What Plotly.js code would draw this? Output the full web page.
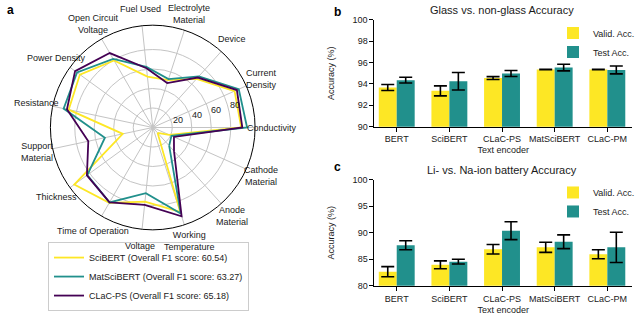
<!DOCTYPE html>
<html>
<head>
<meta charset="utf-8">
<script src="https://cdn.plot.ly/plotly-3.0.1.min.js"></script>
<style>html,body{margin:0;padding:0;background:#fff;}#chart{width:640px;height:315px;}</style>
</head>
<body>
<div id="chart"></div>
<script>
// ---- Radar (panel a) ----
const categories = ["Anode<br>Material", "Cathode<br>Material", "Conductivity", "Current<br>Density", "Device",
  "Electrolyte<br>Material", "Fuel Used", "Open Circuit<br>Voltage", "Power Density", "Resistance",
  "Support<br>Material", "Thickness", "Time of Operation", "Voltage", "Working<br>Temperature"];
const sciBERT    = [7.4, 18.4, 90.8, 91.9, 67.2, 51.1, 52.5, 79.4, 92.4, 88.2, 31.5, 99.5, 89.3, 76.4, 91.0];
const matSciBERT = [25.2, 21.0, 96.8, 96.6, 70.7, 52.2, 62.5, 81.3, 96.0, 93.5, 50.2, 83.0, 88.7, 67.7, 92.7];
const clacPS     = [32.6, 23.8, 91.9, 94.5, 69.0, 48.0, 61.1, 88.2, 98.5, 90.0, 67.6, 83.5, 88.7, 79.8, 95.8];
const radarNames = ["SciBERT (Overall F1 score: 60.54)", "MatSciBERT (Overall F1 score: 63.27)", "CLaC-PS (Overall F1 score: 65.18)"];
const radialTicks = [20, 40, 60, 80];
const radialMax = 105;

// ---- Bars (panels b, c) ----
const encoders = ["BERT", "SciBERT", "CLaC-PS", "MatSciBERT", "CLaC-PM"];
const glassValid    = [93.66, 93.35, 94.55, 95.35, 95.35];
const glassValidErr = [0.28, 0.47, 0.13, 0.02, 0.02];
const glassTest     = [94.35, 94.25, 94.97, 95.53, 95.31];
const glassTestErr  = [0.27, 0.82, 0.28, 0.31, 0.37];
const liValid    = [82.65, 83.95, 86.9, 87.25, 85.95];
const liValidErr = [0.95, 0.75, 0.9, 0.95, 0.85];
const liTest     = [87.65, 84.55, 90.4, 88.3, 87.25];
const liTestErr  = [0.85, 0.45, 1.7, 1.3, 2.85];
const barNames = ["Valid. Acc.", "Test Acc."];

const YEL = "#fde725", TEAL = "#21908c", PURP = "#440154";
const W = 640, H = 315;
const closed = a => a.concat([a[0]]);

const traces = [];
[[sciBERT, YEL], [matSciBERT, TEAL], [clacPS, PURP]].forEach((s, i) => {
  traces.push({type: "scatterpolar", mode: "lines", r: closed(s[0]), theta: closed(categories),
    name: radarNames[i], line: {color: s[1], width: 1.8}, legend: "legend", hoverinfo: "skip"});
});
function barTrace(y, err, color, name, xa, ya, lg) {
  return {type: "bar", x: encoders, y: y, name: name, xaxis: xa, yaxis: ya, legend: lg,
    marker: {color: color, line: {width: 0}},
    error_y: {type: "data", array: err, visible: true, color: "#000", thickness: 1.6, width: 6.5}};
}
traces.push(barTrace(glassValid, glassValidErr, YEL, barNames[0], "x", "y", "legend2"));
traces.push(barTrace(glassTest, glassTestErr, TEAL, barNames[1], "x", "y", "legend2"));
traces.push(barTrace(liValid, liValidErr, YEL, barNames[0], "x2", "y2", "legend3"));
traces.push(barTrace(liTest, liTestErr, TEAL, barNames[1], "x2", "y2", "legend3"));

const axX = (anchor, so) => ({domain: [0.586, 0.989], anchor: anchor, range: [-0.423, 4.468], showline: true,
  linecolor: "#000", linewidth: 1, ticks: "outside", ticklen: 4, tickcolor: "#000", showgrid: false,
  zeroline: false, tickangle: 0, tickfont: {size: 9},
  title: {text: "Text encoder", font: {size: 9}, standoff: so}});
const axY = (anchor, dom, rng, dt) => ({domain: dom, anchor: anchor, range: rng, dtick: dt, showline: true,
  linecolor: "#000", linewidth: 1, ticks: "outside", ticklen: 4, tickcolor: "#000", showgrid: false,
  zeroline: false, tickfont: {size: 9},
  title: {text: "Accuracy (%)", font: {size: 9}, standoff: 16}});

const legendBar = (y) => ({x: 0.866, y: y, xanchor: "left", yanchor: "top", bgcolor: "rgba(255,255,255,0)",
  borderwidth: 0, font: {size: 9}, tracegroupgap: 0});

// polar geometry (domain) and label placement computed from it
const polarDom = {x: [0.0789, 0.3992], y: [0.2698, 0.9206]};
const rotation = -48;
const cx = (polarDom.x[0] + polarDom.x[1]) / 2, cy = (polarDom.y[0] + polarDom.y[1]) / 2;
const radiusPx = Math.min((polarDom.x[1] - polarDom.x[0]) * W, (polarDom.y[1] - polarDom.y[0]) * H) / 2;

const annotations = [];
categories.forEach((c, i) => {
  const th = (rotation + i * 360 / categories.length) * Math.PI / 180;
  const R = radiusPx + 16.5;
  annotations.push({text: c, x: cx + R * Math.cos(th) / W, y: cy + R * Math.sin(th) / H,
    xref: "paper", yref: "paper", xanchor: "center", yanchor: "middle", showarrow: false,
    font: {size: 9, color: "#1a1a1a"}});
});
radialTicks.forEach(v => {
  const th = 15.5 * Math.PI / 180;
  const R = v / radialMax * radiusPx + 7;
  annotations.push({text: String(v), x: cx + R * Math.cos(th) / W, y: cy + R * Math.sin(th) / H,
    xref: "paper", yref: "paper", xanchor: "center", yanchor: "middle", showarrow: false,
    font: {size: 9, color: "#1a1a1a"}});
});
annotations.push(
  {text: "<b>a</b>", x: 0.008, y: 0.968, xref: "paper", yref: "paper", xanchor: "left", yanchor: "middle", showarrow: false, font: {size: 12, color: "#000"}},
  {text: "<b>b</b>", x: 0.52, y: 0.962, xref: "paper", yref: "paper", xanchor: "left", yanchor: "middle", showarrow: false, font: {size: 12, color: "#000"}},
  {text: "<b>c</b>", x: 0.52, y: 0.47, xref: "paper", yref: "paper", xanchor: "left", yanchor: "middle", showarrow: false, font: {size: 12, color: "#000"}},
  {text: "Glass vs. non-glass Accuracy", x: 0.785, y: 0.968, xref: "paper", yref: "paper", xanchor: "center", yanchor: "middle", showarrow: false, font: {size: 11}},
  {text: "Li- vs. Na-ion battery Accuracy", x: 0.785, y: 0.46, xref: "paper", yref: "paper", xanchor: "center", yanchor: "middle", showarrow: false, font: {size: 11}}
);

const layout = {
  width: W, height: H, margin: {l: 0, r: 0, t: 0, b: 0},
  paper_bgcolor: "#fff", plot_bgcolor: "#fff",
  font: {family: "Liberation Sans, Arial, sans-serif", size: 9, color: "#1a1a1a"},
  polar: {
    domain: polarDom, bgcolor: "#fff",
    angularaxis: {rotation: rotation, direction: "counterclockwise", showline: true, linecolor: "#000",
      linewidth: 1, gridcolor: "#c4c4c4", gridwidth: 1, ticks: "", showticklabels: false},
    radialaxis: {range: [0, radialMax], tickvals: radialTicks, showline: false, showticklabels: false,
      gridcolor: "#c4c4c4", gridwidth: 1, ticks: ""}
  },
  xaxis: axX("y", 3), yaxis: axY("x", [0.598, 0.937], [90, 100], 2),
  xaxis2: axX("y2", 6), yaxis2: axY("x2", [0.093, 0.429], [80, 100], 5),
  barmode: "group", bargap: 0.318, bargroupgap: 0,
  legend: {x: 0.075, y: 0.122, xanchor: "left", yanchor: "middle", bordercolor: "#cccccc", borderwidth: 1,
    bgcolor: "#fff", font: {size: 9}},
  legend2: legendBar(0.941),
  legend3: legendBar(0.435),
  showlegend: true,
  annotations: annotations
};

Plotly.newPlot("chart", traces, layout, {staticPlot: true, displayModeBar: false});
</script>
</body>
</html>
